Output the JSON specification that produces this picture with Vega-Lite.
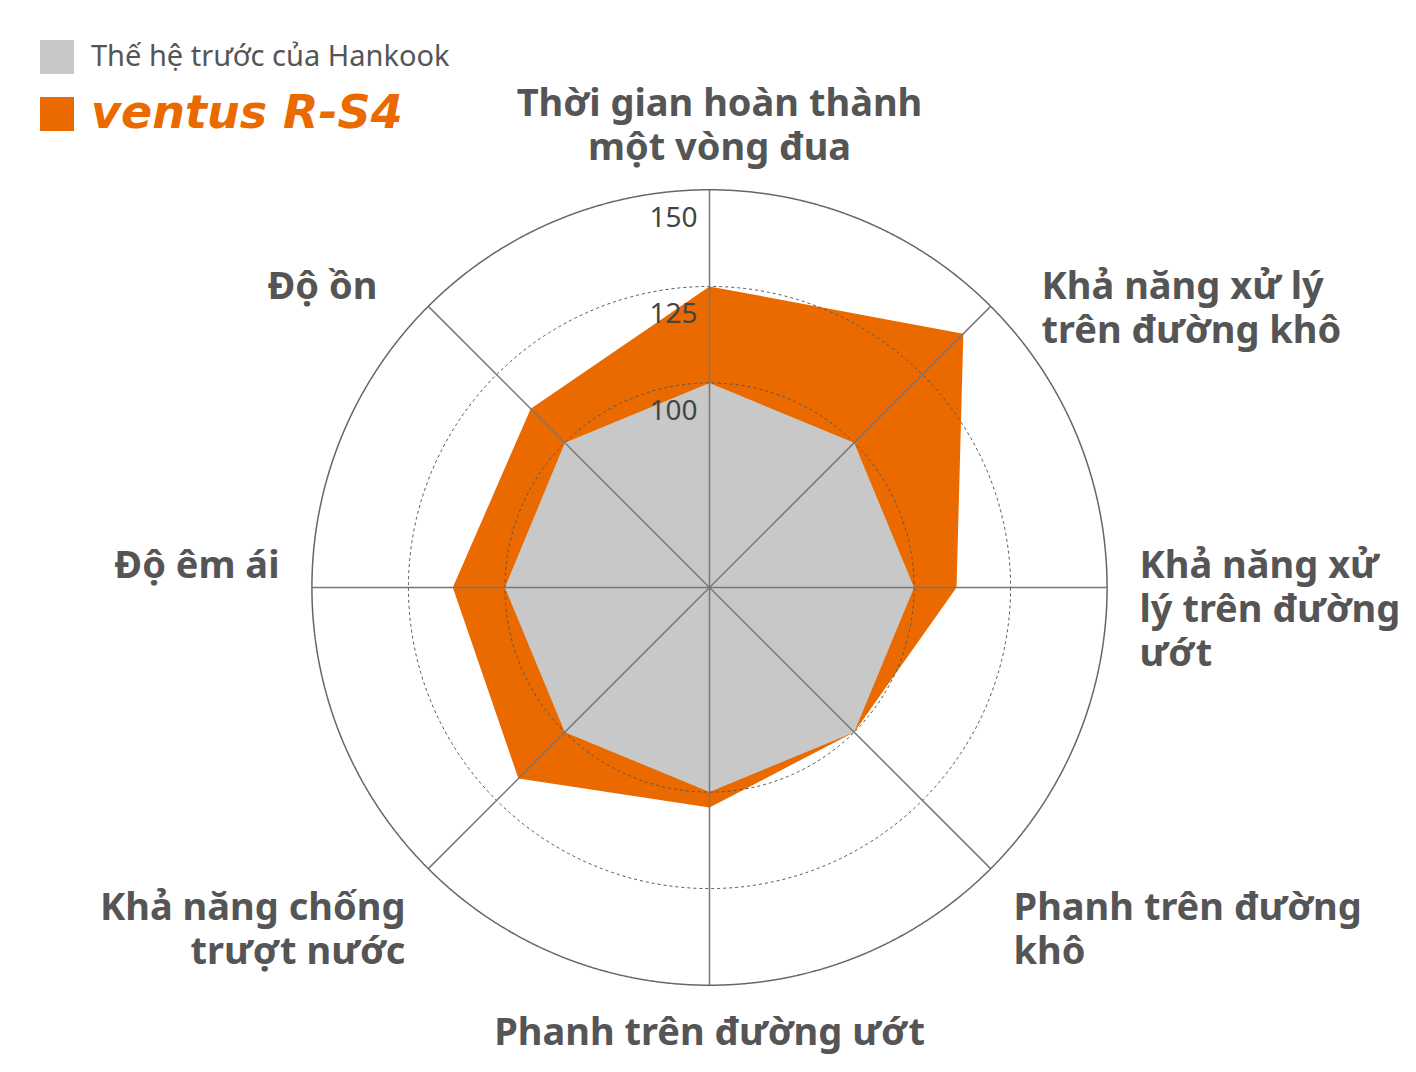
{
  "$schema": "https://vega.github.io/schema/vega-lite/v6.json",
  "width": 1419,
  "height": 969,
  "autosize": {"type": "none"},
  "padding": {"left": 0, "top": 103, "right": 0, "bottom": 0},
  "background": "white",
  "config": {"view": {"stroke": null}, "font": "Noto Sans"},
  "datasets": {
    "scores": [
      {"series": "Thế hệ trước của Hankook", "idx": 0, "value": 100},
      {"series": "Thế hệ trước của Hankook", "idx": 1, "value": 100},
      {"series": "Thế hệ trước của Hankook", "idx": 2, "value": 100},
      {"series": "Thế hệ trước của Hankook", "idx": 3, "value": 100},
      {"series": "Thế hệ trước của Hankook", "idx": 4, "value": 100},
      {"series": "Thế hệ trước của Hankook", "idx": 5, "value": 100},
      {"series": "Thế hệ trước của Hankook", "idx": 6, "value": 100},
      {"series": "Thế hệ trước của Hankook", "idx": 7, "value": 100},
      {"series": "ventus R-S4", "idx": 0, "value": 125},
      {"series": "ventus R-S4", "idx": 1, "value": 140},
      {"series": "ventus R-S4", "idx": 2, "value": 111},
      {"series": "ventus R-S4", "idx": 3, "value": 100},
      {"series": "ventus R-S4", "idx": 4, "value": 104},
      {"series": "ventus R-S4", "idx": 5, "value": 117},
      {"series": "ventus R-S4", "idx": 6, "value": 113.5},
      {"series": "ventus R-S4", "idx": 7, "value": 112.5}
    ],
    "cats": [
      {"idx": 0, "label": "Thời gian hoàn thành\nmột vòng đua"},
      {"idx": 1, "label": "Khả năng xử lý\ntrên đường khô"},
      {"idx": 2, "label": "Khả năng xử\nlý trên đường\nướt"},
      {"idx": 3, "label": "Phanh trên đường\nkhô"},
      {"idx": 4, "label": "Phanh trên đường ướt"},
      {"idx": 5, "label": "Khả năng chống\ntrượt nước"},
      {"idx": 6, "label": "Độ êm ái"},
      {"idx": 7, "label": "Độ ồn"}
    ],
    "rings": [{"ring": 100}, {"ring": 125}, {"ring": 150}]
  },
  "layer": [
    {
      "data": {"name": "scores"},
      "transform": [
        {"filter": "datum.series === 'ventus R-S4'"},
        {"calculate": "(datum.value - 47) * sin(datum.idx * PI / 4)", "as": "px"},
        {"calculate": "(datum.value - 47) * cos(datum.idx * PI / 4)", "as": "py"}
      ],
      "mark": {"type": "line", "interpolate": "linear-closed", "strokeOpacity": 0},
      "encoding": {
        "x": {"field": "px", "type": "quantitative", "scale": {"domain": [-183.81, 183.81], "nice": false, "zero": false}, "axis": null},
        "y": {"field": "py", "type": "quantitative", "scale": {"domain": [-125.52, 125.52], "nice": false, "zero": false}, "axis": null},
        "order": {"field": "idx", "type": "quantitative"},
        "fill": {
          "field": "series",
          "type": "nominal",
          "scale": {"domain": ["Thế hệ trước của Hankook", "ventus R-S4"], "range": ["#c8c8c8", "#ea6a00"]},
          "legend": {
            "title": null,
            "orient": "none",
            "legendX": 40,
            "legendY": -63,
            "padding": 0,
            "symbolType": "square",
            "symbolSize": 1156,
            "symbolStrokeWidth": 0,
            "labelFont": {"expr": "datum.value === 'ventus R-S4' ? 'DejaVu Sans' : 'Noto Sans'"},
            "labelFontSize": {"expr": "datum.value === 'ventus R-S4' ? 46 : 29"},
            "labelFontWeight": {"expr": "datum.value === 'ventus R-S4' ? 'bold' : 'normal'"},
            "labelFontStyle": {"expr": "datum.value === 'ventus R-S4' ? 'italic' : 'normal'"},
            "labelColor": {"expr": "datum.value === 'ventus R-S4' ? '#ea6a00' : '#555555'"},
            "labelOffset": 17,
            "labelLimit": 600,
            "rowPadding": 17
          }
        }
      }
    },
    {
      "data": {"name": "scores"},
      "transform": [
        {"filter": "datum.series !== 'ventus R-S4'"},
        {"calculate": "(datum.value - 47) * sin(datum.idx * PI / 4)", "as": "px"},
        {"calculate": "(datum.value - 47) * cos(datum.idx * PI / 4)", "as": "py"}
      ],
      "mark": {"type": "line", "interpolate": "linear-closed", "strokeOpacity": 0},
      "encoding": {
        "x": {"field": "px", "type": "quantitative", "scale": {"domain": [-183.81, 183.81], "nice": false, "zero": false}, "axis": null},
        "y": {"field": "py", "type": "quantitative", "scale": {"domain": [-125.52, 125.52], "nice": false, "zero": false}, "axis": null},
        "order": {"field": "idx", "type": "quantitative"},
        "fill": {"field": "series", "type": "nominal"}
      }
    },
    {
      "data": {"name": "rings"},
      "transform": [{"calculate": "datum.ring - 47", "as": "rr"}, {"calculate": "0", "as": "zero"}],
      "mark": {"type": "point", "shape": "circle", "filled": false, "opacity": 1},
      "encoding": {
        "x": {"field": "zero", "type": "quantitative", "scale": {"domain": [-183.81, 183.81], "nice": false, "zero": false}, "axis": null},
        "y": {"field": "zero", "type": "quantitative", "scale": {"domain": [-125.52, 125.52], "nice": false, "zero": false}, "axis": null},
        "size": {"field": "rr", "type": "quantitative", "scale": {"type": "pow", "exponent": 2, "domain": [0, 103], "range": [0, 632279], "zero": true, "nice": false}, "legend": null},
        "stroke": {"condition": {"test": "datum.ring < 150", "value": "#555555"}, "value": "#666666"},
        "strokeDash": {"condition": {"test": "datum.ring < 150", "value": [3, 3]}, "value": [1, 0]},
        "strokeWidth": {"condition": {"test": "datum.ring < 150", "value": 1}, "value": 1.5}
      }
    },
    {
      "data": {"name": "cats"},
      "transform": [
        {"calculate": "0", "as": "zero"},
        {"calculate": "103 * sin(datum.idx * PI / 4)", "as": "sx"},
        {"calculate": "103 * cos(datum.idx * PI / 4)", "as": "sy"}
      ],
      "mark": {"type": "rule", "stroke": "#777777", "strokeWidth": 1.5},
      "encoding": {
        "x": {"field": "zero", "type": "quantitative", "scale": {"domain": [-183.81, 183.81], "nice": false, "zero": false}, "axis": null},
        "y": {"field": "zero", "type": "quantitative", "scale": {"domain": [-125.52, 125.52], "nice": false, "zero": false}, "axis": null},
        "x2": {"field": "sx"},
        "y2": {"field": "sy"}
      }
    },
    {
      "data": {"name": "rings"},
      "transform": [{"calculate": "datum.ring - 47", "as": "ry"}, {"calculate": "0", "as": "zero"}],
      "mark": {"type": "text", "align": "right", "baseline": "top", "dx": -12, "dy": 15, "font": "Noto Sans", "fontSize": 28, "color": "#444444"},
      "encoding": {
        "x": {"field": "zero", "type": "quantitative", "scale": {"domain": [-183.81, 183.81], "nice": false, "zero": false}, "axis": null},
        "y": {"field": "ry", "type": "quantitative", "scale": {"domain": [-125.52, 125.52], "nice": false, "zero": false}, "axis": null},
        "text": {"field": "ring", "type": "quantitative"}
      }
    },
    {
      "data": {"name": "cats"},
      "transform": [
        {"calculate": "sin(datum.idx * PI / 4)", "as": "s"},
        {"calculate": "cos(datum.idx * PI / 4)", "as": "c"},
        {"calculate": "111.4 * datum.s", "as": "lx"},
        {"calculate": "111.4 * datum.c", "as": "ly"}
      ],
      "mark": {
        "type": "text",
        "lineBreak": "\n",
        "lineHeight": 44,
        "font": "Noto Sans",
        "fontWeight": "bold",
        "fontSize": 38,
        "color": "#555555",
        "baseline": "alphabetic",
        "align": {"expr": "datum.s > 0.1 ? 'left' : datum.s < -0.1 ? 'right' : 'center'"},
        "dx": {"expr": "datum.c > 0.5 && datum.s > 0.5 ? 28 : datum.c > 0.5 && datum.s < -0.5 ? -28 : datum.c > 0.9 ? 10 : 0"},
        "dy": {"expr": "datum.c > 0.9 ? -42 : datum.c > 0.5 ? 16 : datum.c > -0.5 ? -10 : 28"}
      },
      "encoding": {
        "x": {"field": "lx", "type": "quantitative", "scale": {"domain": [-183.81, 183.81], "nice": false, "zero": false}, "axis": null},
        "y": {"field": "ly", "type": "quantitative", "scale": {"domain": [-125.52, 125.52], "nice": false, "zero": false}, "axis": null},
        "text": {"field": "label", "type": "nominal"}
      }
    }
  ]
}
